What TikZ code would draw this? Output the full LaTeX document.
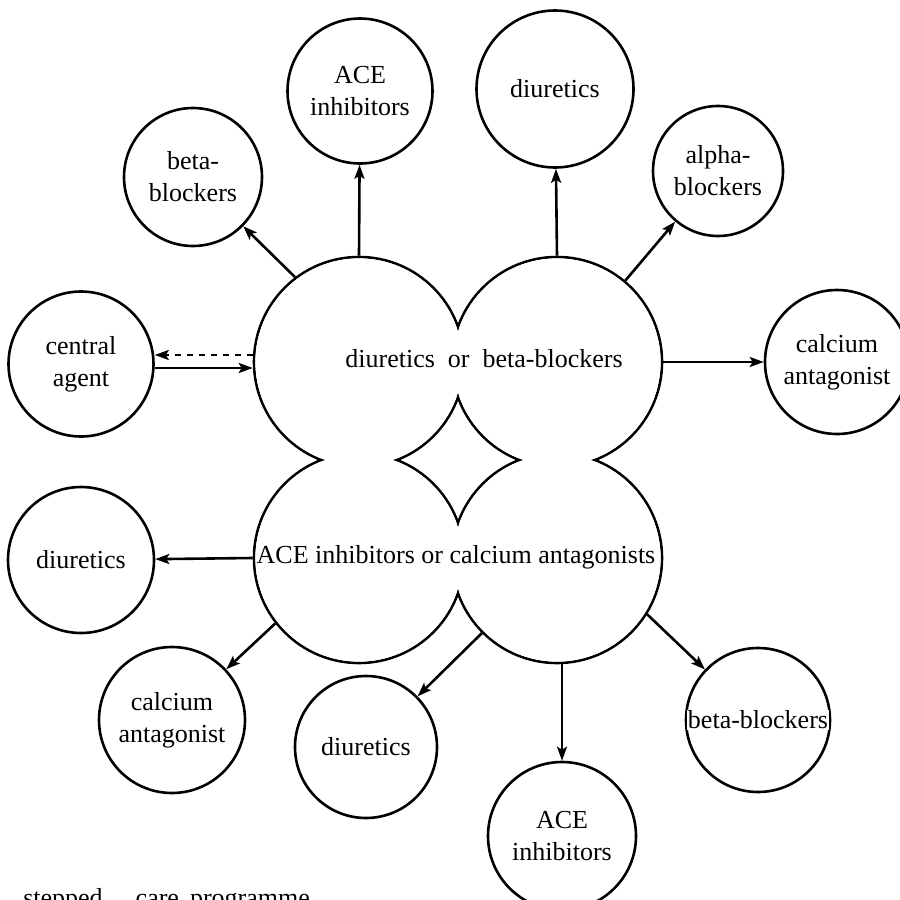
\documentclass[tikz,border=0pt]{standalone}
\usepackage{fontspec}
\setmainfont{Liberation Serif}
\usetikzlibrary{arrows.meta}
\newcommand{\wsp}{\hspace{0.5em}}

\begin{document}
\begin{tikzpicture}[x=0.5pt, y=-0.5pt, line width=1.3pt, >={Stealth[length=7pt, width=5pt, inset=1.5pt]}]
    \tikzstyle{drug} = [circle, draw, align=center, inner sep=0pt, font=\fontsize{13}{16}\selectfont]
    \tikzstyle{lobe} = [circle, draw, minimum size=105pt, inner sep=0pt]
    \tikzstyle{big} = [inner sep=0pt, font=\fontsize{13}{16}\selectfont]

    \useasboundingbox (0,0) rectangle (900,900);
    \clip (0,0) rectangle (900,900);

    % the four lobes of the first/second step
    \node [lobe] (tl) at (359,362) {};
    \node [lobe] (tr) at (557,362) {};
    \node [lobe] (bl) at (359,558) {};
    \node [lobe] (br) at (557,558) {};
    \foreach \l in {tl,tr,bl,br}
        \fill [white] (\l) circle [radius=51.8pt];

    \node [big] (s1) at (484,359) {diuretics\wsp or\wsp beta-blockers};
    \node [big] (s2) at (456,557) {ACE inhibitors or calcium antagonists};

    % drugs added on
    \node [drug, minimum size=69pt] (bb1) at (193,177) {beta-\\blockers};
    \node [drug, minimum size=72.5pt] (ace1) at (360,91) {ACE\\inhibitors};
    \node [drug, minimum size=78.5pt] (diu1) at (555,89) {diuretics};
    \node [drug, minimum size=65pt] (ab) at (718,171) {alpha-\\blockers};
    \node [drug, minimum size=72.5pt] (ca) at (81,364) {central\\agent};
    \node [drug, minimum size=72pt] (cal1) at (837,362) {calcium\\antagonist};
    \node [drug, minimum size=73pt] (diu2) at (81,560) {diuretics};
    \node [drug, minimum size=73pt] (cal2) at (172,720) {calcium\\antagonist};
    \node [drug, minimum size=71pt] (diu3) at (366,747) {diuretics};
    \node [drug, minimum size=74pt] (ace2) at (562,836) {ACE\\inhibitors};
    \node [drug, minimum size=72pt] (bb2) at (758,720) {};
    \node [fill=white, inner sep=0.5pt, font=\fontsize{13}{16}\selectfont] (bb2t) at (bb2) {beta-blockers};

    \draw [->] (tl.127) -- (bb1);
    \draw [->] (tl.north) -- (ace1);
    \draw [->] (tr.north) -- (diu1);
    \draw [->] (tr.50) -- (ab);
    \draw [->] (tr.east) -- (cal1);
    \draw [->, dashed] ([yshift=3.5pt]tl.west) -- ([yshift=3.5pt]tl.west -| ca.east);
    \draw [->] ([yshift=-3pt]tl.west -| ca.east) -- ([yshift=-3pt]tl.west);
    \draw [->] (bl.west) -- (diu2);
    \draw [->] (bl.218) -- (cal2);
    \draw [->] (br.225) -- (diu3);
    \draw [->] (br.south -| ace2) -- (ace2);
    \draw [->] (br.-32) -- (bb2);

    \node [anchor=base west, inner sep=0pt, font=\fontsize{13}{16}\selectfont] (cap) at (22,906) {stepped\hspace{16.5pt}care\hspace{5.5pt}programme};
\end{tikzpicture}
\end{document}
